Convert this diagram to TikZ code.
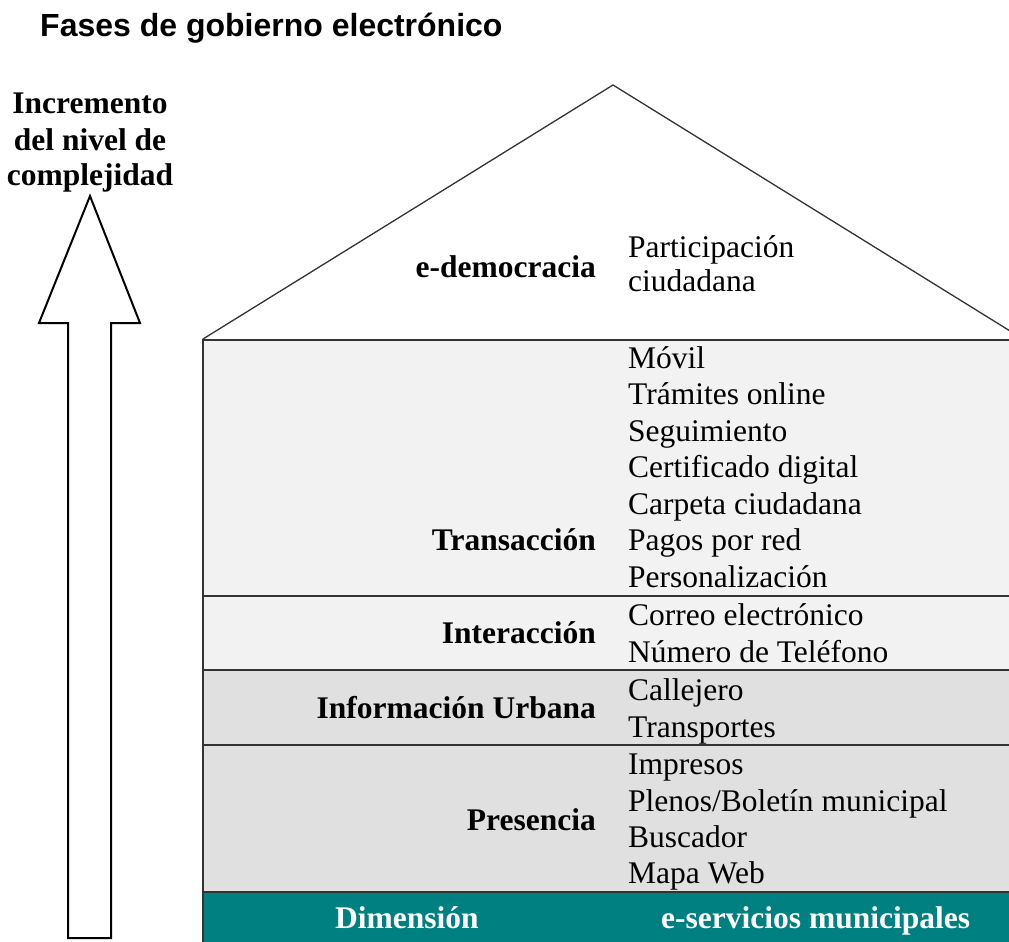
\documentclass[tikz,border=0pt]{standalone}
\usepackage{fontspec}
\setmainfont{Liberation Serif}
\newfontfamily\titlefont{Liberation Sans}
\definecolor{dimteal}{HTML}{008080}
\definecolor{bandlight}{HTML}{F2F2F2}
\definecolor{banddark}{HTML}{E0E0E0}
\definecolor{linegray}{HTML}{333333}
\begin{document}
\begin{tikzpicture}[x=1pt,y=-1pt,
  item/.style={anchor=base west,inner sep=0pt,font=\fontsize{31.5}{37}\selectfont},
  lab/.style={anchor=base east,inner sep=0pt,font=\fontsize{31.5}{37}\selectfont\bfseries},
  side/.style={anchor=base,inner sep=0pt,font=\fontsize{31.5}{37}\selectfont\bfseries},
  dimtext/.style={anchor=base west,inner sep=0pt,text=white,font=\fontsize{31.5}{37}\selectfont\bfseries},
  sep/.style={draw=linegray,line width=1.8pt},
  roofline/.style={draw=linegray,line width=1.3pt,line cap=round}]
\useasboundingbox (0,0) rectangle (1009,942);
\clip (0,0) rectangle (1009,942);
\fill[white] (0,0) rectangle (1009,942);
% title
\node[anchor=base west,inner sep=0pt,font=\titlefont\bfseries\fontsize{32}{38}\selectfont] (title) at (40,37) {Fases de gobierno electrónico};
% bands
\fill[bandlight] (203,340) rectangle (1020,670);
\fill[banddark] (203,670) rectangle (1020,892);
\fill[dimteal] (203,892) rectangle (1020,945);
% roof
\draw[roofline] (203,339) -- (613,85) -- (1023,339);
% lines
\draw[sep] (203,945) -- (203,340) -- (1020,340);
\draw[sep] (203,596) -- (1020,596);
\draw[sep] (203,670) -- (1020,670);
\draw[sep] (203,745) -- (1020,745);
\draw[sep] (203,892) -- (1020,892);
% arrow
\draw[line width=2pt,line join=miter] (90,196) -- (140,323) -- (111,323) -- (111,938) -- (68,938) -- (68,323) -- (39,323) -- cycle;
\node[side] (s1) at (90,113) {Incremento};
\node[side] (s2) at (90,150) {del nivel de};
\node[side] (s3) at (90,185) {complejidad};
% e-democracia
\node[lab] (edem) at (596,277) {e-democracia};
\node[item] (p1) at (628,257) {Participación};
\node[item] (p2) at (628,291) {ciudadana};
% Transaccion
\node[lab] (trans) at (596,550) {Transacción};
\node[item] (t1) at (628,368) {Móvil};
\node[item] (t2) at (628,404.5) {Trámites online};
\node[item] (t3) at (628,441) {Seguimiento};
\node[item] (t4) at (628,477.5) {Certificado digital};
\node[item] (t5) at (628,514) {Carpeta ciudadana};
\node[item] (t6) at (628,550.5) {Pagos por red};
\node[item] (t7) at (628,587) {Personalización};
% Interaccion
\node[lab] (inter) at (596,643) {Interacción};
\node[item] (i1) at (628,625) {Correo electrónico};
\node[item] (i2) at (628,662) {Número de Teléfono};
% Informacion Urbana
\node[lab] (info) at (596,718) {Información Urbana};
\node[item] (u1) at (628,700) {Callejero};
\node[item] (u2) at (628,737) {Transportes};
% Presencia
\node[lab] (pres) at (596,830) {Presencia};
\node[item] (r1) at (628,774) {Impresos};
\node[item] (r2) at (628,811) {Plenos/Boletín municipal};
\node[item] (r3) at (628,847) {Buscador};
\node[item] (r4) at (628,883) {Mapa Web};
% Dimension bar
\node[dimtext] (dim) at (335,928) {Dimensión};
\node[dimtext] (eserv) at (661,928) {e-servicios municipales};
\end{tikzpicture}
\end{document}
